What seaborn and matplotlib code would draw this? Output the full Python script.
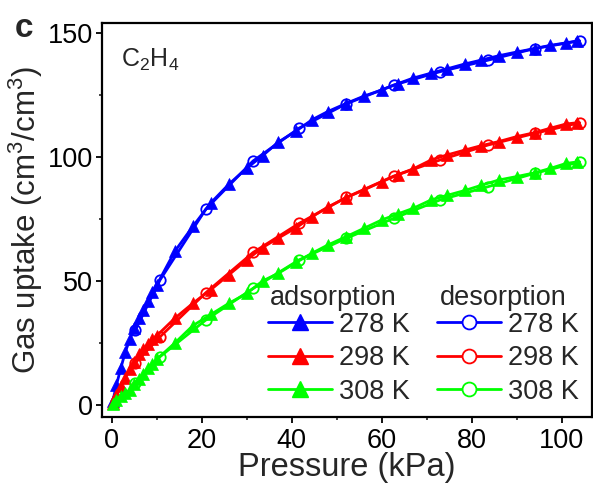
import matplotlib
matplotlib.use("Agg")
import matplotlib.pyplot as plt
import seaborn as sns
from matplotlib.lines import Line2D
from matplotlib.ticker import MultipleLocator

# ---------------- data ----------------
temps = ["278 K", "298 K", "308 K"]
colors = ["#0000FF", "#FF0000", "#00FF00"]

p_ads = [0.2, 1, 2, 3, 4, 5, 6, 7, 8, 9, 10, 14, 18, 22, 26, 30, 33.5, 37,
         41, 44.5, 48, 52, 56, 60, 63.5, 67, 71, 74.5, 78.5, 82, 86, 90, 94,
         97.5, 101, 103.5]
ads_278 = [1.5, 8, 15, 21.5, 26.5, 31, 35, 38.5, 42, 45.5, 48.5, 62, 72, 81.5,
           89, 95.5, 100.5, 106, 110.5, 115, 118.3, 121.5, 124.5, 127, 129.5,
           131.8, 133.8, 135.5, 137.5, 139, 140.8, 142.3, 143.7, 145, 146, 146.8]
ads_298 = [1, 4, 7.5, 11, 14.5, 17.5, 20.5, 22.5, 24.5, 26.5, 28, 35, 41, 46.5,
           52.5, 58.5, 63.5, 67.3, 71.5, 75.9, 79.8, 83.5, 86.7, 90, 92.8, 95.2,
           98.8, 100.8, 102.8, 104.5, 106.2, 108.2, 109.8, 111.6, 113.3, 113.8]
ads_308 = [0.5, 2, 3.5, 5, 6, 8.5, 10.5, 12.5, 15, 16.5, 18.5, 25, 32, 36.5,
           41, 45, 50, 53.1, 57.5, 61.2, 64.5, 67.8, 71.2, 74.6, 77, 79.3, 82.7,
           84.5, 86.5, 88.5, 90.7, 92.1, 93.6, 95.4, 97.4, 98]

p_des = [104, 94, 83.6, 73, 62.7, 52.1, 41.6, 31.4, 20.9, 10.7, 5.2]
des_278 = [146.8, 143.7, 139, 134.4, 129, 121.4, 111.6, 98.4, 79, 50.4, 30.2]
des_298 = [113.8, 109.5, 104.8, 98.8, 92.3, 83.7, 73.2, 61.5, 45.3, 27.5, 17]
des_308 = [98, 93.4, 88, 82.7, 75.3, 67.2, 58.5, 47, 34.3, 19.5, 9]

x_ticks = [0, 20, 40, 60, 80, 100]
y_ticks = [0, 50, 100, 150]

# ---------------- style ----------------
sns.set_theme(style="ticks")
plt.rcParams["font.family"] = ["Liberation Sans", "DejaVu Sans"]
plt.rcParams["mathtext.fontset"] = "custom"
plt.rcParams["mathtext.rm"] = "Liberation Sans"
plt.rcParams["mathtext.it"] = "Liberation Sans:italic"
plt.rcParams["mathtext.bf"] = "Liberation Sans:bold"
plt.rcParams["xtick.labelsize"] = 19.5
plt.rcParams["ytick.labelsize"] = 19.5

fig = plt.figure(figsize=(5.93, 4.86), dpi=100)
ax = fig.add_axes([0.172, 0.1426, 0.826, 0.8101])

ads_all = [ads_278, ads_298, ads_308]
des_all = [des_278, des_298, des_308]

for vals, c in zip(ads_all, colors):
    sns.lineplot(x=p_ads, y=vals, ax=ax, color=c, linewidth=2.0, marker="^",
                 markersize=8, markeredgecolor=c, markerfacecolor=c,
                 markeredgewidth=0.5, sort=False, estimator=None, legend=False,
                 zorder=3)
for vals, c in zip(des_all, colors):
    sns.lineplot(x=p_des, y=vals, ax=ax, color=c, linewidth=2.0, marker="o",
                 markersize=7.5, markeredgecolor=c, markerfacecolor="none",
                 markeredgewidth=1.3, sort=False, estimator=None, legend=False,
                 zorder=4)

ax.set_xlim(-2.2, 106.7)
ax.set_ylim(-4.7, 154)
ax.set_xticks(x_ticks)
ax.set_yticks(y_ticks)
ax.xaxis.set_minor_locator(MultipleLocator(10))
ax.yaxis.set_minor_locator(MultipleLocator(25))

for s in ax.spines.values():
    s.set_linewidth(1.6)
    s.set_color("black")
    s.set_visible(True)

ax.tick_params(which="major", direction="out", length=4.5, width=1.3,
               labelsize=19.5, pad=2.0, colors="black", top=False, right=False)
ax.tick_params(which="minor", direction="out", length=2.5, width=1.2,
               top=False, right=False)
ax.tick_params(axis="x", which="major", pad=3.5)
for lab in ax.get_xticklabels() + ax.get_yticklabels():
    lab.set_fontsize(19.5)

ax.set_xlabel("Pressure (kPa)", fontsize=23.5, labelpad=-1)
ax.set_ylabel("Gas uptake (cm$^3$/cm$^3$)", fontsize=22.5, labelpad=2)

ax.text(0.039, 0.888, "C$_2$H$_4$", transform=ax.transAxes, fontsize=18,
        ha="left", va="baseline")
fig.text(0.025, 0.924, "c", fontsize=24, fontweight="bold", ha="left",
         va="baseline")

# ---------------- legend ----------------
handles = []
for c in colors:
    handles.append(Line2D([], [], color=c, lw=2.0, marker="^", markersize=12,
                          markerfacecolor=c, markeredgecolor=c))
for c in colors:
    handles.append(Line2D([], [], color=c, lw=2.0, marker="o", markersize=10,
                          markerfacecolor="white", markeredgecolor=c,
                          markeredgewidth=1.3))
labels = temps + temps
ax.legend(handles, labels, ncol=2, loc="upper left",
          bbox_to_anchor=(0.339, 0.266), frameon=False, fontsize=19.5,
          handlelength=2.35, handletextpad=0.28, columnspacing=1.0,
          labelspacing=0.27, borderpad=0, borderaxespad=0)

ax.text(0.343, 0.284, "adsorption", transform=ax.transAxes, fontsize=19.5,
        ha="left", va="baseline")
ax.text(0.690, 0.284, "desorption", transform=ax.transAxes, fontsize=19.5,
        ha="left", va="baseline")

fig.savefig("out.png", dpi=100)
